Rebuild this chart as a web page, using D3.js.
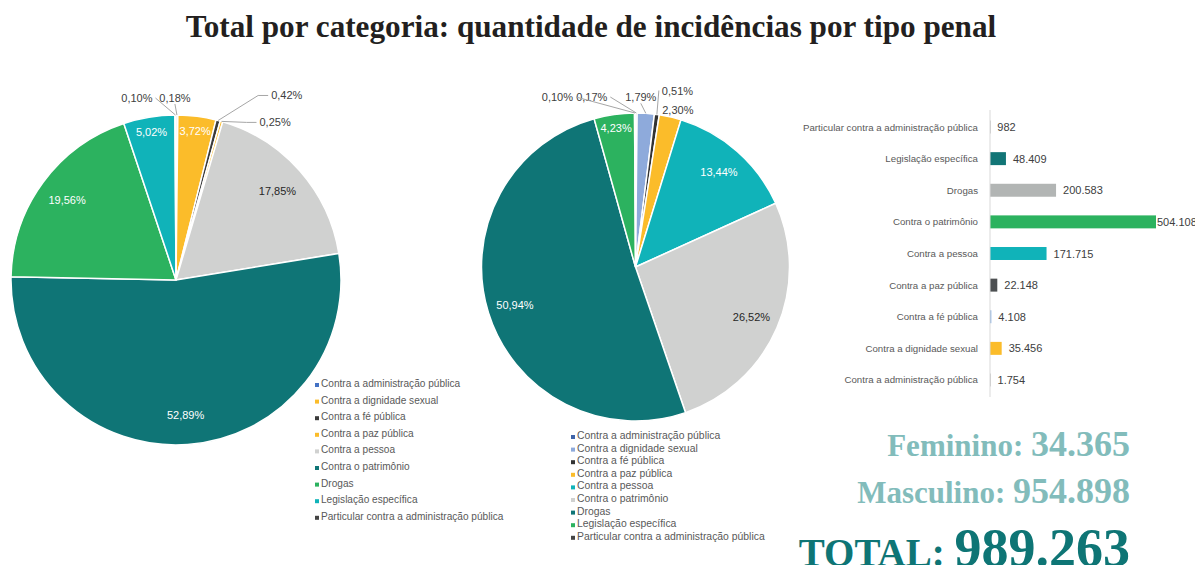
<!DOCTYPE html>
<html>
<head>
<meta charset="utf-8">
<script src="https://cdn.jsdelivr.net/npm/d3@7"></script>
<style>
  body { margin: 0; background: #fff; }
  svg { display: block; }
</style>
</head>
<body>
<div id="chart"></div>
<script>
// categories in the order used by both pies and by the bar chart (bottom to top)
const categories = [
    "Contra a administração pública",
    "Contra a dignidade sexual",
    "Contra a fé pública",
    "Contra a paz pública",
    "Contra a pessoa",
    "Contra o patrimônio",
    "Drogas",
    "Legislação específica",
    "Particular contra a administração pública"
];

// percentages
const femininoPct = [0.18, 3.72, 0.42, 0.25, 17.85, 52.89, 19.56, 5.02, 0.10];
const masculinoPct = [0.17, 1.79, 0.51, 2.30, 13.44, 26.52, 50.94, 4.23, 0.10];

// totals per category (bar chart)
const totalValues = [1754, 35456, 4108, 22148, 171715, 504108, 200583, 48409, 982];

// summary figures
const summaryLabels = ["Feminino:", "Masculino:", "TOTAL:"];
const summaryValues = [34365, 954898, 989263];

const chartTitle = "Total por categoria: quantidade de incidências por tipo penal";

// colours
const femColors = ["#4472c4", "#fbbc2a", "#3b3b3b", "#fbbc2a", "#d0d1d0", "#0f7576", "#2cb25f", "#10b3b9", "#444444"];
const mascColors = ["#3f64a8", "#8eaadb", "#333333", "#fbbc2a", "#10b3b9", "#d0d1d0", "#0f7576", "#2cb25f", "#444444"];
const barColors = ["#a6a6a6", "#fbbc2a", "#8eb4e3", "#4d5052", "#10b3b9", "#2cb25f", "#b2b5b4", "#127576", "#a6a6a6"];

const ptBR = d3.formatLocale({decimal: ",", thousands: ".", grouping: [3], currency: ["R$", ""]});
const fmtInt = ptBR.format(",d");
const fmtPct = v => ptBR.format(".2f")(v) + "%";

const W = 1195, H = 565;
const svg = d3.select("#chart").append("svg")
    .attr("width", W)
    .attr("height", H);

// title
svg.append("text")
    .attr("x", 591)
    .attr("y", 37)
    .attr("text-anchor", "middle")
    .attr("font-family", "Liberation Serif, serif")
    .attr("font-weight", "bold")
    .attr("font-size", 31.2)
    .attr("fill", "#231f20")
    .text(chartTitle);

// label placement for the small slices: [dx, dy, anchor, leader]
const femOutside = {
    0: [-2, -13, "middle", true],
    2: [53, -21, "start", true],
    3: [38, 5, "start", true],
    8: [-23, -13, "end", true]
};
const mascOutside = {
    0: [-29, -12, "end", true],
    1: [-5, -12, "middle", true],
    2: [5, -20, "start", true],
    3: [-8, -3, "start", false],
    8: [-62, -12, "end", true]
};

function drawPie(cfg) {
    const data = cfg.values.map((v, i) => ({name: categories[i], value: v, i: i}));
    const pie = d3.pie().sort(null).value(d => d.value);
    const arcs = pie(data);
    const arc = d3.arc().innerRadius(0).outerRadius(cfg.r);

    const g = svg.append("g")
        .attr("transform", `translate(${cfg.cx}, ${cfg.cy})`);

    g.selectAll(".slice")
        .data(arcs)
        .enter()
        .append("path")
        .attr("class", "slice")
        .attr("d", arc)
        .attr("fill", d => cfg.colors[d.data.i])
        .attr("stroke", "#fff")
        .attr("stroke-width", 1.5);

    arcs.forEach(a => {
        const mid = (a.startAngle + a.endAngle) / 2;
        const pct = a.data.value;
        const out = cfg.outside[a.data.i];
        if (out) {
            // point on the rim
            const px = Math.sin(mid) * cfg.r, py = -Math.cos(mid) * cfg.r;
            const lx = px + out[0], ly = py + out[1];
            if (out[3]) {
                let pts;
                if (out[2] === "middle") pts = [[px, py], [lx, ly + 2]];
                else if (out[2] === "end") pts = [[px, py], [lx + 3, ly - 4]];
                else if (Math.abs(out[0]) > 30) pts = [[px, py], [lx - 13, ly - 4], [lx - 3, ly - 4]];
                else pts = [[px, py], [lx - 3, ly - 4]];
                g.append("path")
                    .attr("d", d3.line()(pts))
                    .attr("fill", "none")
                    .attr("stroke", "#a6a6a6")
                    .attr("stroke-width", 1);
            }
            g.append("text")
                .attr("x", lx)
                .attr("y", ly)
                .attr("text-anchor", out[2])
                .attr("font-family", "Liberation Sans, Arial, sans-serif")
                .attr("font-size", 11)
                .attr("fill", "#404040")
                .text(fmtPct(pct));
        } else {
            const k = pct > 10 ? 0.82 : 0.91;
            const lx = Math.sin(mid) * cfg.r * k, ly = -Math.cos(mid) * cfg.r * k;
            const light = cfg.colors[a.data.i] === "#d0d1d0";
            g.append("text")
                .attr("x", lx)
                .attr("y", ly + 4)
                .attr("text-anchor", "middle")
                .attr("font-family", "Liberation Sans, Arial, sans-serif")
                .attr("font-size", 11)
                .attr("fill", light ? "#262626" : "#ffffff")
                .text(fmtPct(pct));
        }
    });

    // legend
    const lg = svg.append("g")
        .attr("transform", `translate(${cfg.legendX}, ${cfg.legendY})`);
    const rows = lg.selectAll(".leg")
        .data(categories)
        .enter()
        .append("g")
        .attr("class", "leg")
        .attr("transform", (d, i) => `translate(0, ${i * cfg.legendStep})`);
    rows.append("rect")
        .attr("x", 0)
        .attr("y", -4)
        .attr("width", 4)
        .attr("height", 4)
        .attr("fill", (d, i) => cfg.colors[i]);
    rows.append("text")
        .attr("x", 6)
        .attr("y", 0)
        .attr("font-family", "Liberation Sans, Arial, sans-serif")
        .attr("font-size", cfg.legendFont)
        .attr("fill", "#595959")
        .text(d => d);
}

drawPie({values: femininoPct, colors: femColors, outside: femOutside,
    cx: 176, cy: 280, r: 165, legendX: 315, legendY: 387, legendStep: 16.6, legendFont: 10.1});
drawPie({values: masculinoPct, colors: mascColors, outside: mascOutside,
    cx: 635.5, cy: 267, r: 154, legendX: 571, legendY: 439, legendStep: 12.6, legendFont: 10.4});

// horizontal bar chart
const barData = categories.map((c, i) => ({name: c, value: totalValues[i], i: i}));
const xScale = d3.scaleLinear()
    .domain([0, d3.max(totalValues)])
    .range([990, 1156]);
const yScale = d3.scaleBand()
    .domain(categories.slice().reverse())
    .range([111.2, 395.8])
    .paddingInner(0.59)
    .paddingOuter(0.295);

const barG = svg.append("g");
barG.selectAll(".bar")
    .data(barData)
    .enter()
    .append("rect")
    .attr("class", "bar")
    .attr("x", xScale(0))
    .attr("y", d => yScale(d.name))
    .attr("width", d => Math.max(0.6, xScale(d.value) - xScale(0)))
    .attr("height", yScale.bandwidth())
    .attr("fill", d => barColors[d.i]);

barG.append("line")
    .attr("x1", xScale(0))
    .attr("x2", xScale(0))
    .attr("y1", 110)
    .attr("y2", 397)
    .attr("stroke", "#d9d9d9")
    .attr("stroke-width", 1);

barG.selectAll(".cat-label")
    .data(barData)
    .enter()
    .append("text")
    .attr("class", "cat-label")
    .attr("x", 978)
    .attr("y", d => yScale(d.name) + yScale.bandwidth() / 2 + 3.5)
    .attr("text-anchor", "end")
    .attr("font-family", "Liberation Sans, Arial, sans-serif")
    .attr("font-size", 9.7)
    .attr("fill", "#595959")
    .text(d => d.name);

barG.selectAll(".val-label")
    .data(barData)
    .enter()
    .append("text")
    .attr("class", "val-label")
    .attr("x", d => Math.min(xScale(d.value) + 7, xScale.range()[1] + 1))
    .attr("y", d => yScale(d.name) + yScale.bandwidth() / 2 + 4)
    .attr("font-family", "Liberation Sans, Arial, sans-serif")
    .attr("font-size", 11)
    .attr("fill", "#404040")
    .text(d => fmtInt(d.value));

// summary block
const sumStyle = [
    {y: 456, color: "#82bcbb", labelSize: 31, valueSize: 36},
    {y: 503, color: "#82bcbb", labelSize: 31, valueSize: 36},
    {y: 566, color: "#0e7575", labelSize: 39, valueSize: 54}
];
summaryLabels.forEach((lab, i) => {
    const s = sumStyle[i];
    const t = svg.append("text")
        .attr("x", 1130)
        .attr("y", s.y)
        .attr("text-anchor", "end")
        .attr("font-family", "Liberation Serif, serif")
        .attr("font-weight", "bold")
        .attr("fill", s.color);
    t.append("tspan").attr("font-size", s.labelSize).text(lab + " ");
    t.append("tspan").attr("font-size", s.valueSize).text(fmtInt(summaryValues[i]));
});
</script>
</body>
</html>
